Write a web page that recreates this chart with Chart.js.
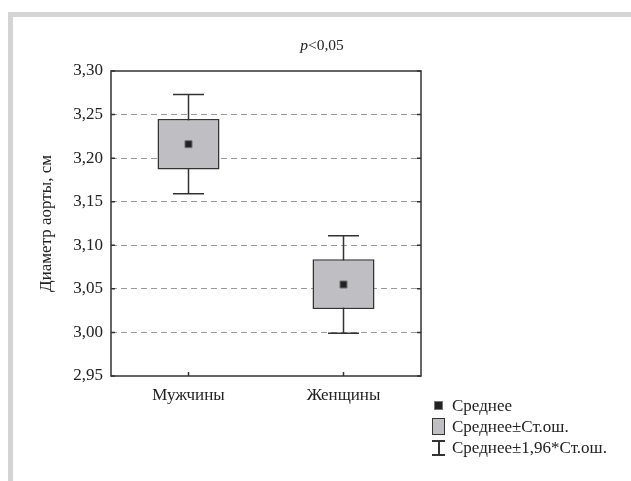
<!DOCTYPE html>
<html>
<head>
<meta charset="utf-8">
<script src="https://cdn.jsdelivr.net/npm/chart.js@4/dist/chart.umd.min.js"></script>
<style>
  html, body { margin: 0; padding: 0; background: #fff; }
  #wrap { position: relative; width: 631px; height: 481px; overflow: hidden;
          font-family: "Liberation Serif", "Times New Roman", serif; color: #222; }
  #frame { position: absolute; left: 8px; top: 12px; right: 0; bottom: 0;
           border-top: 5px solid #d4d4d4; border-left: 5px solid #d4d4d4; }
  #c { position: absolute; left: 0; top: 0; }
  #title { position: absolute; left: 0; width: 644px; top: 36px; text-align: center; font-size: 15.5px; }
  #legend { position: absolute; left: 431px; top: 395px; font-size: 17px; }
  .row { display: flex; align-items: center; height: 21px; }
  .ico { width: 17px; height: 21px; position: relative; margin-right: 4px; }
  .mean { position: absolute; left: 3px; top: 6px; width: 7px; height: 7px; background: #222; border: 1px solid #777; }
  .box { position: absolute; left: 1px; top: 2px; width: 11px; height: 15px; background: #bfbfc3; border: 1.5px solid #333; }
  .ci-v { position: absolute; left: 7px; top: 3px; width: 1.5px; height: 15px; background: #333; }
  .ci-t { position: absolute; left: 1px; top: 3px; width: 13px; height: 1.5px; background: #333; }
  .ci-b { position: absolute; left: 1px; top: 17px; width: 13px; height: 1.5px; background: #333; }
</style>
</head>
<body>
<div id="wrap">
  <div id="frame"></div>
  <canvas id="c" width="631" height="481"></canvas>
  <div id="title"><i>p</i>&lt;0,05</div>
  <div id="legend">
    <div class="row"><div class="ico"><div class="mean"></div></div><span>Среднее</span></div>
    <div class="row"><div class="ico"><div class="box"></div></div><span>Среднее±Ст.ош.</span></div>
    <div class="row"><div class="ico"><div class="ci-v"></div><div class="ci-t"></div><div class="ci-b"></div></div><span>Среднее±1,96*Ст.ош.</span></div>
  </div>
</div>
<script>
// Aortic diameter by sex: mean, mean ± SE, mean ± 1.96*SE
const categories = ['Мужчины', 'Женщины'];
const means      = [3.216, 3.055];
const seLow      = [3.187, 3.027];
const seHigh     = [3.245, 3.084];
const ciLow      = [3.159, 2.999];
const ciHigh     = [3.273, 3.111];
const yMin = 2.95, yMax = 3.30, yStep = 0.05;

const INK = '#333';
const FONT = { family: '"Liberation Serif", "Times New Roman", serif', size: 17 };

// Whiskers behind the boxes, frame and inward ticks on top
const whiskerPlugin = {
  id: 'whiskers',
  beforeDatasetsDraw(chart) {
    const { ctx, scales: { x, y } } = chart;
    const boxes = chart.getDatasetMeta(0).data;
    ctx.save();
    ctx.strokeStyle = INK;
    ctx.lineWidth = 1.5;
    categories.forEach((_, i) => {
      const cx = x.getPixelForValue(i);
      const half = boxes[i].width / 4;
      const yl = y.getPixelForValue(ciLow[i]);
      const yh = y.getPixelForValue(ciHigh[i]);
      ctx.beginPath();
      ctx.moveTo(cx, yl); ctx.lineTo(cx, yh);
      ctx.moveTo(cx - half, yl); ctx.lineTo(cx + half, yl);
      ctx.moveTo(cx - half, yh); ctx.lineTo(cx + half, yh);
      ctx.stroke();
    });
    ctx.restore();
  },
  afterDraw(chart) {
    const { ctx, chartArea: a, scales: { x, y } } = chart;
    ctx.save();
    ctx.strokeStyle = INK;
    ctx.lineWidth = 1.5;
    ctx.strokeRect(a.left, a.top, a.right - a.left, a.bottom - a.top);
    ctx.beginPath();
    y.ticks.forEach(t => {
      const py = y.getPixelForValue(t.value);
      ctx.moveTo(a.left, py); ctx.lineTo(a.left + 4, py);
      ctx.moveTo(a.right, py); ctx.lineTo(a.right - 4, py);
    });
    categories.forEach((_, i) => {
      const px = x.getPixelForValue(i);
      ctx.moveTo(px, a.bottom); ctx.lineTo(px, a.bottom - 4);
    });
    ctx.stroke();
    ctx.restore();
  }
};

new Chart(document.getElementById('c'), {
  type: 'bar',
  data: {
    labels: categories,
    datasets: [
      {
        label: 'Среднее±Ст.ош.',
        data: categories.map((_, i) => [seLow[i], seHigh[i]]),
        backgroundColor: '#bfbfc3',
        borderColor: INK,
        borderWidth: 1.5,
        borderSkipped: false,
        categoryPercentage: 1,
        barPercentage: 0.4,
        grouped: false,
        order: 2
      },
      {
        type: 'line',
        label: 'Среднее',
        data: means,
        showLine: false,
        pointStyle: 'rect',
        pointRadius: 5,
        backgroundColor: '#222',
        borderColor: '#777',
        borderWidth: 1,
        order: 1
      }
    ]
  },
  options: {
    responsive: false,
    animation: false,
    devicePixelRatio: 1,
    layout: { padding: { left: 36, top: 71, right: 210, bottom: 0 } },
    plugins: { legend: { display: false }, tooltip: { enabled: false } },
    scales: {
      x: {
        grid: { display: false, drawTicks: false },
        border: { display: false },
        ticks: { color: '#222', font: FONT, padding: 9 },
        afterFit(s) { s.height = 105; }
      },
      y: {
        min: yMin, max: yMax,
        grid: {
          drawTicks: false,
          lineWidth: 1,
          color: c => (c.index === 0 || c.index === Math.round((yMax - yMin) / yStep)) ? 'rgba(0,0,0,0)' : '#9a9a9a'
        },
        border: { display: false, dash: [6, 4] },
        ticks: {
          stepSize: yStep,
          color: '#222',
          font: FONT,
          padding: 8,
          callback: v => Number(v).toFixed(2).replace('.', ',')
        },
        title: { display: true, text: 'Диаметр аорты, см', color: '#222', font: FONT, padding: { top: 0, bottom: 6 } },
        afterFit(s) { s.width = 75; }
      }
    }
  },
  plugins: [whiskerPlugin]
});
</script>
</body>
</html>
